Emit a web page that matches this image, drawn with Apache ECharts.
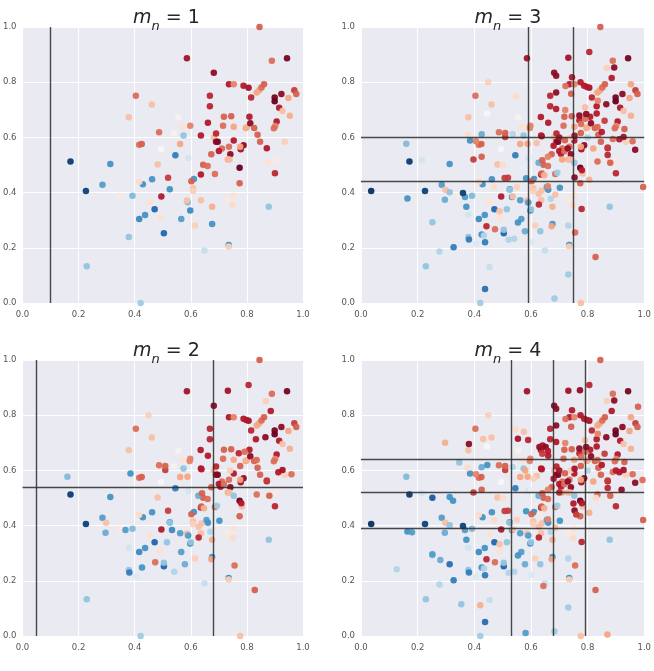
<!DOCTYPE html>
<html>
<head>
<meta charset="utf-8">
<script src="https://cdn.jsdelivr.net/npm/echarts@6/dist/echarts.min.js"></script>
<style>
  html, body { margin: 0; padding: 0; background: #fff; }
  #chart { width: 654px; height: 671px; }
</style>
</head>
<body>
<div id="chart"></div>
<script>
// points are [x, y, colour value 0..1 on RdBu_r]
// shown in every panel
const pointsM1 = [
  [0.171,0.513,0.02],[0.226,0.406,0.03],[0.313,0.504,0.2],[0.285,0.428,0.22],[0.229,0.133,0.3],
  [0.379,0.239,0.3],[0.392,0.389,0.28],[0.421,0.0,0.32],[0.344,0.389,0.55],[0.429,0.43,0.2],
  [0.416,0.304,0.18],[0.437,0.319,0.2],[0.462,0.448,0.2],[0.471,0.34,0.1],[0.504,0.253,0.1],
  [0.525,0.412,0.2],[0.545,0.535,0.15],[0.566,0.304,0.22],[0.574,0.607,0.3],[0.591,0.525,0.4],
  [0.589,0.365,0.28],[0.598,0.335,0.18],[0.611,0.449,0.2],[0.649,0.19,0.38],[0.676,0.286,0.2],
  [0.735,0.21,0.18],[0.878,0.349,0.3],
  [0.404,0.751,0.78],[0.461,0.719,0.65],[0.379,0.673,0.65],[0.416,0.573,0.78],[0.425,0.576,0.8],
  [0.487,0.619,0.78],[0.482,0.502,0.65],[0.416,0.439,0.6],[0.454,0.366,0.58],[0.491,0.308,0.58],
  [0.495,0.386,0.9],[0.519,0.454,0.85],[0.586,0.887,0.92],[0.598,0.642,0.75],[0.562,0.576,0.7],
  [0.602,0.441,0.8],[0.586,0.371,0.65],[0.608,0.416,0.65],[0.608,0.406,0.62],[0.615,0.281,0.62],
  [0.636,0.372,0.65],[0.636,0.607,0.9],[0.636,0.466,0.9],[0.644,0.501,0.8],[0.66,0.496,0.78],
  [0.682,0.834,0.95],[0.668,0.751,0.88],[0.668,0.713,0.88],[0.661,0.653,0.9],[0.682,0.6,0.65],
  [0.69,0.614,0.88],[0.69,0.584,0.95],[0.696,0.584,0.97],[0.673,0.539,0.8],[0.686,0.467,0.78],
  [0.676,0.349,0.68],[0.718,0.675,0.8],[0.715,0.642,0.78],[0.711,0.56,0.78],[0.7,0.551,0.9],
  [0.736,0.566,0.78],[0.744,0.677,0.8],[0.753,0.639,0.7],[0.736,0.793,0.9],[0.753,0.793,0.75],
  [0.753,0.589,0.9],[0.741,0.539,0.95],[0.732,0.52,0.68],[0.738,0.52,0.66],[0.753,0.389,0.58],
  [0.749,0.355,0.6],[0.729,0.373,0.55],[0.735,0.205,0.62],[0.774,0.49,1.0],[0.774,0.434,0.8],
  [0.778,0.557,0.92],[0.788,0.572,0.95],[0.776,0.566,0.7],[0.796,0.634,0.7],[0.8,0.637,0.68],
  [0.812,0.651,0.95],[0.809,0.675,0.9],[0.788,0.787,0.9],[0.806,0.78,0.92],[0.815,0.745,0.88],
  [0.826,0.634,0.8],[0.838,0.61,0.8],[0.847,0.584,0.8],[0.835,0.763,0.7],[0.844,0.771,0.7],
  [0.852,0.781,0.78],[0.861,0.793,0.8],[0.845,1.0,0.8],[0.871,0.561,0.9],[0.876,0.51,0.58],
  [0.889,0.878,0.78],[0.943,0.887,0.98],[0.899,0.745,0.98],[0.899,0.731,1.0],[0.923,0.757,0.95],
  [0.915,0.707,0.9],[0.927,0.696,0.65],[0.906,0.658,0.9],[0.901,0.641,0.75],[0.896,0.633,0.78],
  [0.935,0.584,0.62],[0.9,0.47,0.88],[0.903,0.518,0.55],[0.948,0.743,0.7],[0.953,0.678,0.68],
  [0.969,0.771,0.85],[0.976,0.757,0.8],[0.555,0.672,0.52],[0.54,0.615,0.52],[0.494,0.558,0.5],
  [0.57,0.638,0.58]
];

// added from m_n = 2 on
const pointsM2 = [
  [0.16,0.577,0.28],[0.296,0.374,0.25],[0.367,0.384,0.22],[0.385,0.589,0.2],[0.381,0.23,0.15],
  [0.379,0.32,0.4],[0.426,0.248,0.2],[0.407,0.215,0.42],[0.298,0.41,0.65],[0.473,0.267,0.78],
  [0.504,0.265,0.3],[0.515,0.34,0.3],[0.533,0.384,0.18],[0.525,0.41,0.3],[0.541,0.233,0.35],
  [0.579,0.26,0.25],[0.562,0.372,0.22],[0.591,0.364,0.22],[0.6,0.34,0.3],[0.628,0.396,0.65],
  [0.628,0.357,0.88],[0.638,0.408,0.65],[0.627,0.508,0.25],[0.64,0.517,0.8],[0.638,0.469,0.8],
  [0.647,0.463,0.68],[0.656,0.42,0.22],[0.661,0.41,0.2],[0.67,0.378,0.35],[0.702,0.418,0.2],
  [0.693,0.472,0.32],[0.753,0.508,0.3],[0.673,0.278,0.7],[0.756,0.255,0.78],[0.828,0.167,0.8],
  [0.732,0.889,0.92],[0.806,0.909,0.88],[0.798,0.783,0.9],[0.832,0.713,0.9],[0.771,0.662,0.88],
  [0.635,0.674,0.9],[0.638,0.604,0.9],[0.509,0.601,0.85],[0.509,0.616,0.8],[0.596,0.634,0.75],
  [0.588,0.577,0.7],[0.866,0.72,0.95],[0.885,0.815,0.9],[0.835,0.638,0.78],[0.912,0.593,0.9],
  [0.927,0.601,0.92],[0.959,0.586,0.78],[0.88,0.508,0.8],[0.835,0.513,0.78],[0.871,0.563,0.85],
  [0.792,0.668,0.78],[0.776,0.616,0.8],[0.868,0.851,0.62],[0.782,0.469,0.65],[0.78,0.481,0.9],
  [0.706,0.541,0.9],[0.718,0.55,0.78],[0.776,0.0,0.65],[0.449,0.8,0.62],[0.74,0.6,0.62]
];

// added from m_n = 3 on
const pointsM3 = [
  [0.036,0.406,0.0],[0.164,0.379,0.2],[0.313,0.401,0.3],[0.36,0.399,0.03],[0.372,0.349,0.2],
  [0.252,0.293,0.3],[0.327,0.202,0.15],[0.277,0.187,0.35],[0.438,0.22,0.15],[0.438,0.051,0.12],
  [0.454,0.13,0.38],[0.443,0.278,0.88],[0.434,0.245,0.35],[0.779,0.341,0.88],[0.732,0.103,0.32],
  [0.683,0.016,0.32],[0.732,0.281,0.35],[0.633,0.26,0.3],[0.554,0.292,0.2],[0.521,0.229,0.35],
  [0.601,0.221,0.42],[0.489,0.332,0.65],[0.536,0.386,0.65],[0.583,0.452,0.2],[0.754,0.455,0.95],
  [0.996,0.42,0.8],[0.806,0.447,0.68],[0.507,0.453,0.85],[0.686,0.392,0.65],[0.66,0.423,0.75],
  [0.894,0.853,0.95],[0.689,0.823,0.95],[0.745,0.818,0.9],[0.775,0.8,0.9],[0.722,0.786,0.78],
  [0.742,0.758,0.8],[0.689,0.763,0.95],[0.689,0.703,0.9],[0.721,0.699,0.75],[0.791,0.709,0.65],
  [0.771,0.679,0.95],[0.836,0.733,0.75],[0.953,0.793,0.7],[0.832,0.687,0.9],[0.795,0.685,0.95],
  [0.777,0.649,0.78],[0.968,0.555,0.95],[0.889,0.594,0.78],[0.871,0.536,0.88],[0.546,0.748,0.6],
  [0.536,0.612,0.35],[0.754,0.606,0.92],[0.8,0.6,0.35],[0.397,0.52,0.85],[0.426,0.53,0.8],
  [0.215,0.517,0.4],[0.426,0.611,0.25],[0.406,0.586,0.75],[0.445,0.687,0.5],[0.377,0.609,0.6],
  [0.7,0.6,0.92],[0.72,0.59,0.8],[0.68,0.57,0.9],[0.73,0.56,0.95],[0.71,0.52,0.7],
  [0.66,0.53,0.75],[0.62,0.58,0.65],[0.85,0.62,0.9],[0.82,0.56,0.7],[0.86,0.66,0.85],
  [0.93,0.63,0.8],[0.63,0.44,0.55],[0.57,0.49,0.45],[0.6,0.53,0.45],[0.5,0.5,0.6],
  [0.55,0.42,0.62],[0.47,0.42,0.6]
];

// only in m_n = 4
const pointsM4 = [
  [0.297,0.7,0.68],[0.381,0.696,0.95],[0.431,0.714,0.65],[0.347,0.629,0.3],[0.446,0.62,0.2],
  [0.554,0.715,0.92],[0.575,0.74,0.65],[0.63,0.685,0.95],[0.641,0.69,0.92],[0.652,0.685,0.95],
  [0.66,0.67,0.9],[0.773,0.89,0.95],[0.126,0.242,0.35],[0.252,0.501,0.08],[0.325,0.49,0.2],
  [0.252,0.296,0.22],[0.28,0.275,0.25],[0.313,0.26,0.12],[0.354,0.115,0.3],[0.421,0.111,0.68],
  [0.581,0.011,0.22],[0.644,0.181,0.78],[0.87,0.005,0.7],[0.18,0.376,0.22],[0.994,0.565,0.78],
  [0.978,0.831,0.8],[0.59,0.71,0.88],[0.64,0.66,0.85],[0.7,0.52,0.88],[0.75,0.48,0.9],
  [0.76,0.44,0.85],[0.83,0.5,0.6],[0.9,0.6,0.9],[0.92,0.53,0.95],[0.58,0.6,0.7],[0.61,0.57,0.62]
];

// cut positions per panel
const cutsX1 = [0.1];
const cutsY1 = [];
const cutsX2 = [0.05, 0.68];
const cutsY2 = [0.535];
const cutsX3 = [0.588, 0.749];
const cutsY3 = [0.603, 0.437];
const cutsX4 = [0.533, 0.682, 0.787];
const cutsY4 = [0.644, 0.521, 0.388];

const RdBu_r = ['#053061', '#2166ac', '#4393c3', '#92c5de', '#d1e5f0', '#f7f7f7',
  '#fddbc7', '#f4a582', '#d6604d', '#b2182b', '#67001f'];

// panel boxes: m_n = 1 top left, 3 top right, 2 bottom left, 4 bottom right
const panels = [
  { m: 1, left: 20, top: 27, width: 283, data: pointsM1, cx: cutsX1, cy: cutsY1 },
  { m: 3, left: 361, top: 27, width: 284, data: pointsM1.concat(pointsM2, pointsM3), cx: cutsX3, cy: cutsY3 },
  { m: 2, left: 20, top: 360, width: 283, data: pointsM1.concat(pointsM2), cx: cutsX2, cy: cutsY2 },
  { m: 4, left: 361, top: 360, width: 284, data: pointsM1.concat(pointsM2, pointsM3, pointsM4), cx: cutsX4, cy: cutsY4 }
];

const chart = echarts.init(document.getElementById('chart'));

const labelStyle = {
  color: '#555',
  fontFamily: 'DejaVu Sans',
  fontSize: 8.5,
  formatter: (v) => v.toFixed(1)
};

const axisBase = {
  type: 'value',
  min: 0,
  max: 1,
  interval: 0.2,
  axisLine: { show: false },
  axisTick: { show: false },
  splitLine: { lineStyle: { color: '#ffffff', width: 1 } }
};

// title text pieces: italic m with subscript n
const titleFont = { fontFamily: 'DejaVu Sans', fontWeight: 'normal', color: '#262626', lineHeight: 24, verticalAlign: 'bottom' };

const option = {
  animation: false,
  title: panels.map((p) => ({
    text: '{m|m}{s|n}{e| = ' + p.m + '}',
    left: p.left + p.width / 2,
    top: p.top - 28,
    textAlign: 'center',
    textStyle: {
      fontWeight: 'normal',
      rich: {
        m: { ...titleFont, fontStyle: 'italic', fontSize: 19 },
        s: { ...titleFont, fontStyle: 'italic', fontSize: 13, padding: [0, 0, -5, 0] },
        e: { ...titleFont, fontSize: 19 }
      }
    }
  })),
  grid: panels.map((p) => ({
    left: p.left,
    top: p.top,
    width: p.width,
    height: 276,
    show: true,
    backgroundColor: '#EAEAF2',
    borderWidth: 0
  })),
  xAxis: panels.map((p, i) => ({
    ...axisBase,
    gridIndex: i,
    axisLabel: { ...labelStyle, margin: 7 }
  })),
  yAxis: panels.map((p, i) => ({
    ...axisBase,
    gridIndex: i,
    axisLabel: { ...labelStyle, margin: 6 }
  })),
  visualMap: {
    show: false,
    type: 'continuous',
    min: 0,
    max: 1,
    dimension: 2,
    seriesIndex: [0, 1, 2, 3],
    inRange: { color: RdBu_r }
  },
  series: panels.map((p, i) => ({
    type: 'scatter',
    xAxisIndex: i,
    yAxisIndex: i,
    data: p.data,
    symbolSize: 6.5,
    itemStyle: { opacity: 0.95 },
    silent: true,
    markLine: {
      silent: true,
      symbol: ['none', 'none'],
      label: { show: false },
      lineStyle: { color: '#2a2a2a', width: 1.4, type: 'solid', opacity: 0.85 },
      data: p.cx.map((v) => ({ xAxis: v })).concat(p.cy.map((v) => ({ yAxis: v })))
    }
  }))
};

chart.setOption(option);
</script>
</body>
</html>
